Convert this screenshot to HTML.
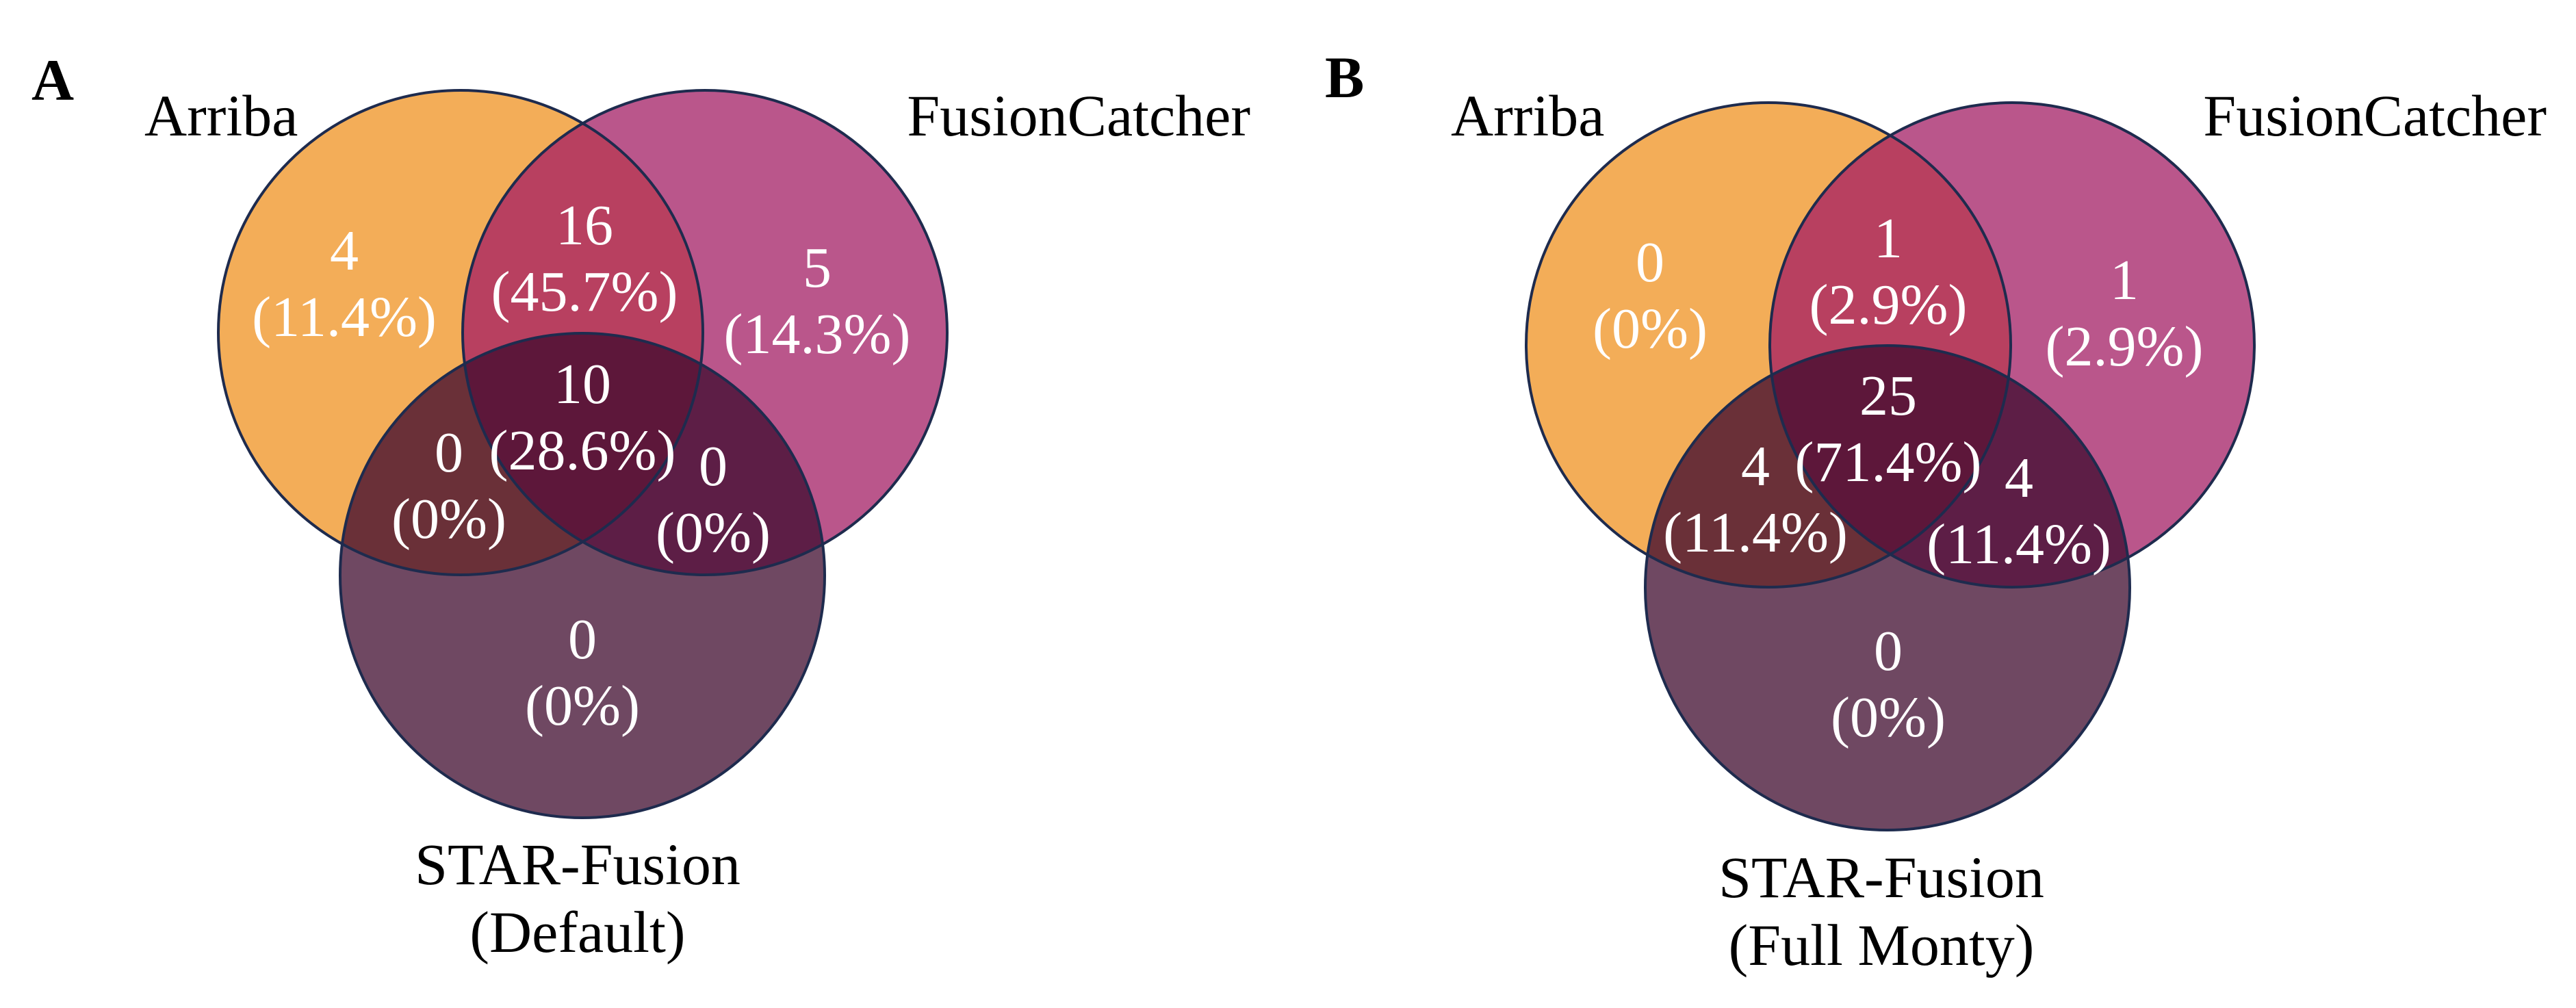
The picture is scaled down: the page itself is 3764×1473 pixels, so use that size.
<!DOCTYPE html>
<html><head><meta charset="utf-8"><style>
html,body{margin:0;padding:0;background:#fff;}
svg{display:block;}
text{font-family:"Liberation Serif",serif;}
</style></head><body>
<svg id="chart" width="3764" height="1473" viewBox="0 0 3764 1473" xmlns="http://www.w3.org/2000/svg"></svg>
<script>
// region order: A only, A∩F, F only, A∩F∩S, A∩S, F∩S, S only
const regionKeys = ["arriba-only","arriba-fusioncatcher","fusioncatcher-only","all-three","arriba-star","fusioncatcher-star","star-only"];
const countsA = [4,16,5,10,0,0,0];
const percentsA = ["(11.4%)","(45.7%)","(14.3%)","(28.6%)","(0%)","(0%)","(0%)"];
const countsB = [0,1,1,25,4,4,0];
const percentsB = ["(0%)","(2.9%)","(2.9%)","(71.4%)","(11.4%)","(11.4%)","(0%)"];
const setNames = ["Arriba","FusionCatcher"];
const starTitleA = ["STAR-Fusion","(Default)"];
const starTitleB = ["STAR-Fusion","(Full Monty)"];

const NS="http://www.w3.org/2000/svg";
const svg=document.getElementById('chart');
function mk(tag,attrs,parent){const e=document.createElementNS(NS,tag);for(const k in attrs)e.setAttribute(k,attrs[k]);(parent||svg).appendChild(e);return e;}
const defs=mk('defs',{});

const panels=[
 {id:'a',letter:'A',lx:46,ly:146,ax:673,fx:1030,sx:851,cy:486,sy:841,r:354,
  arrX:211,fcX:1827,nameY:198,counts:countsA,perc:percentsA,title:starTitleA,titleX:844,titleY:1292,
  lab:[[503,394],[854,357],[1194,419],[851,589],[656,689],[1042,709],[851,962]]},
 {id:'b',letter:'B',lx:1936,ly:142,ax:2584,fx:2940,sx:2758,cy:504,sy:859,r:354,
  arrX:2120,fcX:3721,nameY:198,counts:countsB,perc:percentsB,title:starTitleB,titleX:2749,titleY:1311,
  lab:[[2411,411],[2759,376],[3104,437],[2759,606],[2565,709],[2950,726],[2759,979]]}
];
const cols={a:'#F3AD58',f:'#BA568B',s:'#6F4862',af:'#B84060',as:'#6A3038',fs:'#5D1E46',afs:'#5D173A'};

panels.forEach(p=>{
  const g=mk('g',{});
  
  
  const ca=mk('clipPath',{id:'ca'+p.id},defs); mk('circle',{cx:p.ax,cy:p.cy,r:p.r},ca);
  const cf=mk('clipPath',{id:'cf'+p.id},defs); mk('circle',{cx:p.fx,cy:p.cy,r:p.r},cf);
  const circA={cx:p.ax,cy:p.cy,r:p.r}, circF={cx:p.fx,cy:p.cy,r:p.r}, circS={cx:p.sx,cy:p.sy,r:p.r};
  const a=mk('circle',Object.assign({fill:cols.a},circA),g);
  
  
  const f=mk('circle',Object.assign({fill:cols.f},circF),g);
  
  
  const ga=mk('g',{'clip-path':'url(#ca'+p.id+')'},g);
  mk('circle',Object.assign({fill:cols.af},circF),ga);
  const s=mk('circle',Object.assign({fill:cols.s},circS),g);
  
  
  const gas=mk('g',{'clip-path':'url(#ca'+p.id+')'},g);
  mk('circle',Object.assign({fill:cols.as},circS),gas);
  const gfs=mk('g',{'clip-path':'url(#cf'+p.id+')'},g);
  mk('circle',Object.assign({fill:cols.fs},circS),gfs);
  const gafs=mk('g',{'clip-path':'url(#cf'+p.id+')'},g);
  const gafs2=mk('g',{'clip-path':'url(#ca'+p.id+')'},gafs);
  mk('circle',Object.assign({fill:cols.afs},circS),gafs2);
  [circA,circF,circS].forEach(c=>mk('circle',Object.assign({fill:'none',stroke:'#1E2B4E','stroke-width':4},c),g));

  regionKeys.forEach((k,i)=>{
    const t=mk('text',{x:p.lab[i][0],y:p.lab[i][1],'text-anchor':'middle','font-size':84,fill:'#fff'},g);
    
    
    t.textContent=p.counts[i];
    const t2=mk('text',{x:p.lab[i][0],y:p.lab[i][1]+97,'text-anchor':'middle','font-size':84,fill:'#fff'},g);
    
    
    t2.textContent=p.perc[i];
  });
  const L=mk('text',{x:p.lx,y:p.ly,'font-size':86,'font-weight':'bold',fill:'#000'},g);
  
  
  L.textContent=p.letter;
  const n1=mk('text',{x:p.arrX,y:p.nameY,'font-size':86,fill:'#000'},g);
  
  
  n1.textContent=setNames[0];
  const n2=mk('text',{x:p.fcX,y:p.nameY,'font-size':86,'text-anchor':'end',fill:'#000'},g);
  
  
  n2.textContent=setNames[1];
  p.title.forEach((tt,i)=>{
    const t=mk('text',{x:p.titleX,y:p.titleY+i*99,'font-size':86,'text-anchor':'middle',fill:'#000'},g);
    
    
    t.textContent=tt;
  });
});
</script>
</body></html>
